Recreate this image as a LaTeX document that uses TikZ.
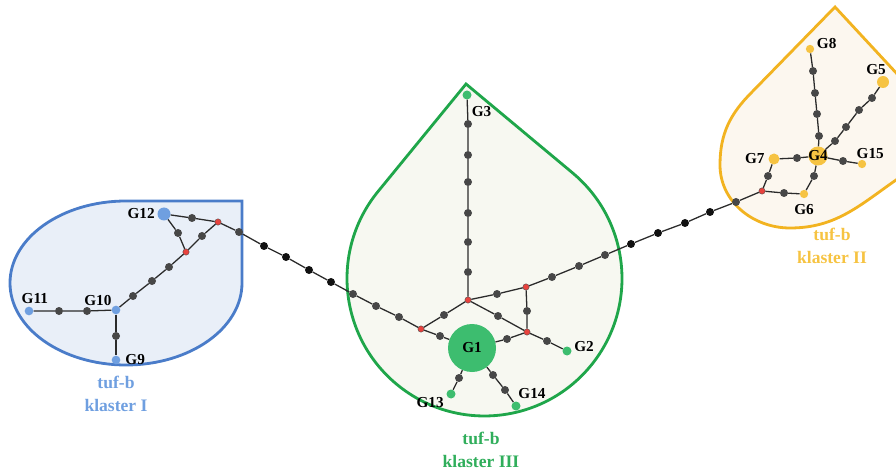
\documentclass[tikz,border=0pt]{standalone}
\usepackage{fontspec}
\setmainfont{Liberation Serif}
\usetikzlibrary{positioning}
\definecolor{hapInk}{HTML}{2B2B2B}
\definecolor{hapDot}{HTML}{474747}
\definecolor{hapBlack}{HTML}{111111}
\definecolor{hapRed}{HTML}{E8433E}
\definecolor{hapBlue}{HTML}{4A7CC9}
\definecolor{hapBlueFill}{HTML}{E9EFF8}
\definecolor{hapBlueDot}{HTML}{6F9FE0}
\definecolor{hapGreen}{HTML}{1FA64A}
\definecolor{hapGreenFill}{HTML}{F7F8F1}
\definecolor{hapGreenDot}{HTML}{3DBD6F}
\definecolor{hapGreenText}{HTML}{30AE5B}
\definecolor{hapGold}{HTML}{F2B320}
\definecolor{hapGoldFill}{HTML}{FCF7EF}
\definecolor{hapGoldDot}{HTML}{F6C342}
\tikzset{
  every node/.style={font=\bfseries\fontsize{13}{15}\selectfont, text=black},
  mutation/.style={circle, fill=hapDot, inner sep=0pt, minimum size=0.24cm},
  outer/.style={mutation, fill=hapBlack},
  median/.style={
    circle,
    fill=hapRed,
    draw=hapDot,
    line width=0.3pt,
    inner sep=0pt,
    minimum size=0.19cm
  },
  haplo/.style={circle, inner sep=0pt, minimum size=0.26cm},
  glabel/.style={inner sep=1pt},
  cluster/.style={line width=2.4pt},
  clabel/.style={align=center, font=\bfseries\fontsize{15}{19}\selectfont},
  link/.style={draw=hapInk, line width=1.1pt}
}

\begin{document}
\begin{tikzpicture}[x=0.03cm, y=0.03cm]
  \useasboundingbox (0,0) rectangle (896,470);
  \clip (0,0) rectangle (896,470);

  \draw[cluster, draw=hapBlue, fill=hapBlueFill] (242,187) -- (242,269) -- (126,269)
    arc[start angle=90, end angle=360, x radius=116, y radius=82] -- cycle;
  \draw[cluster, draw=hapGreen, fill=hapGreenFill] (466,386) -- (378.1,278.6)
    arc[start angle=140.7, end angle=410.1, radius=137.5] -- cycle;
  \draw[cluster, draw=hapGold, fill=hapGoldFill] (835,463) -- (752,378)
    to[out=225, in=90] (720,305) to[out=270, in=180] (790,242)
    to[out=0, in=215] (896,290) to[out=35, in=313] (912,380) -- cycle;

  \node[haplo, fill=hapBlueDot, minimum size=0.39cm] (G12) at (164,256) {};
  \node[mutation] (m1) at (192,252) {};
  \node[median] (mv1) at (218,248) {};
  \node[mutation] (m2) at (178,237) {};
  \node[median] (mv2) at (186,218) {};
  \node[mutation] (m3) at (202,234) {};
  \node[mutation] (m4) at (239,238) {};
  \node[mutation] (m5) at (169,203) {};
  \node[mutation] (m6) at (152,189) {};
  \node[mutation] (m7) at (133,174) {};
  \node[haplo, fill=hapBlueDot] (G10) at (116,160) {};
  \node[mutation] (m8) at (87,159) {};
  \node[mutation] (m9) at (59,159) {};
  \node[haplo, fill=hapBlueDot] (G11) at (29,159) {};
  \node[mutation] (m10) at (116,134) {};
  \node[haplo, fill=hapBlueDot] (G9) at (116,110) {};

  \node[outer] (o1) at (264,224) {};
  \node[outer] (o2) at (286,213) {};
  \node[outer] (o3) at (309,200) {};
  \node[outer] (o4) at (331,188) {};
  \node[mutation] (m11) at (353,176) {};
  \node[mutation] (m12) at (376,164) {};
  \node[mutation] (m13) at (399,153) {};
  \node[median] (mv3) at (421,141) {};

  \node[mutation] (m14) at (440,134) {};
  \node[haplo, fill=hapGreenDot, minimum size=1.44cm] (G1) at (472,122) {};
  \node[mutation] (m15) at (444,155) {};
  \node[median] (mv4) at (468,170) {};
  \node[mutation] (m16) at (468,198) {};
  \node[mutation] (m17) at (468,228) {};
  \node[mutation] (m18) at (468,257) {};
  \node[mutation] (m19) at (468,288) {};
  \node[mutation] (m20) at (468,315) {};
  \node[mutation] (m21) at (468,346) {};
  \node[haplo, fill=hapGreenDot, minimum size=0.27cm] (G3) at (467,375) {};
  \node[mutation] (m22) at (497,176) {};
  \node[median] (mv5) at (526,183) {};
  \node[mutation] (m23) at (498,154) {};
  \node[median] (mv6) at (527,138) {};
  \node[mutation] (m24) at (527,159) {};
  \node[mutation] (m25) at (507,131) {};
  \node[mutation] (m26) at (547,129) {};
  \node[haplo, fill=hapGreenDot, minimum size=0.27cm] (G2) at (567,119) {};
  \node[mutation] (m27) at (459,92) {};
  \node[haplo, fill=hapGreenDot, minimum size=0.27cm] (G13) at (451,76) {};
  \node[mutation] (m28) at (493,95) {};
  \node[mutation] (m29) at (505,80) {};
  \node[haplo, fill=hapGreenDot, minimum size=0.27cm] (G14) at (516,64) {};

  \node[mutation] (m30) at (552,193) {};
  \node[mutation] (m31) at (579,204) {};
  \node[mutation] (m32) at (605,215) {};
  \node[outer] (o5) at (631,226) {};
  \node[outer] (o6) at (658,237) {};
  \node[outer] (o7) at (685,247) {};
  \node[outer] (o8) at (710,258) {};
  \node[mutation] (m33) at (736,268) {};
  \node[median] (mv7) at (762,279) {};

  \node[mutation] (m34) at (768,294) {};
  \node[haplo, fill=hapGoldDot, minimum size=0.33cm] (G7) at (774,311) {};
  \node[mutation] (m35) at (784,277) {};
  \node[haplo, fill=hapGoldDot, minimum size=0.25cm] (G6) at (804,276) {};
  \node[mutation] (m36) at (814,294) {};
  \node[haplo, fill=hapGoldDot, minimum size=0.57cm] (G4) at (818,314) {};
  \node[mutation] (m37) at (797,312) {};
  \node[mutation] (m38) at (843,309) {};
  \node[haplo, fill=hapGoldDot, minimum size=0.25cm] (G15) at (862,306) {};
  \node[mutation] (m39) at (819,334) {};
  \node[mutation] (m40) at (817,356) {};
  \node[mutation] (m41) at (815,377) {};
  \node[mutation] (m42) at (813,399) {};
  \node[haplo, fill=hapGoldDot, minimum size=0.25cm] (G8) at (810,421) {};
  \node[mutation] (m43) at (835,329) {};
  \node[mutation] (m44) at (846,343) {};
  \node[mutation] (m45) at (859,360) {};
  \node[mutation] (m46) at (872,372) {};
  \node[haplo, fill=hapGoldDot, minimum size=0.36cm] (G5) at (883,388) {};

  \draw[link] (G12) -- (m1) -- (mv1) -- (m3) -- (mv2) -- (m2) -- (G12);
  \draw[link] (mv1) -- (m4) -- (o1) -- (o2) -- (o3) -- (o4) -- (m11) -- (m12)
    -- (m13) -- (mv3) -- (m14) -- (G1);
  \draw[link] (mv2) -- (m5) -- (m6) -- (m7) -- (G10) -- (m8) -- (m9) -- (G11);
  \draw[link] (G10) -- (m10) -- (G9);
  \draw[link] (mv3) -- (m15) -- (mv4) -- (m16) -- (m17) -- (m18) -- (m19) -- (m20)
    -- (m21) -- (G3);
  \draw[link] (mv4) -- (m22) -- (mv5) -- (m24) -- (mv6) -- (m23) -- (mv4);
  \draw[link] (mv6) -- (m25) -- (G1);
  \draw[link] (mv6) -- (m26) -- (G2);
  \draw[link] (G1) -- (m27) -- (G13);
  \draw[link] (G1) -- (m28) -- (m29) -- (G14);
  \draw[link] (mv5) -- (m30) -- (m31) -- (m32) -- (o5) -- (o6) -- (o7) -- (o8)
    -- (m33) -- (mv7) -- (m34) -- (G7) -- (m37) -- (G4);
  \draw[link] (mv7) -- (m35) -- (G6) -- (m36) -- (G4);
  \draw[link] (G4) -- (m38) -- (G15);
  \draw[link] (G4) -- (m39) -- (m40) -- (m41) -- (m42) -- (G8);
  \draw[link] (G4) -- (m43) -- (m44) -- (m45) -- (m46) -- (G5);

  \node[glabel, left=1pt of G12] (tG12) {G12};
  \node[glabel, above=1pt of G11, xshift=5pt] (tG11) {G11};
  \node[glabel, above left=0pt of G10] (tG10) {G10};
  \node[glabel, right=3pt of G9] (tG9) {G9};
  \node[glabel, below right=6pt and 0pt of G3] (tG3) {G3};
  \node[glabel, right=1pt of G2, yshift=4pt] (tG2) {G2};
  \node[glabel, left=1pt of G13, yshift=-7pt] (tG13) {G13};
  \node[glabel, above right=2pt and -2pt of G14] (tG14) {G14};
  \node[glabel, right=1pt of G8, yshift=5pt] (tG8) {G8};
  \node[glabel, above=0pt of G5, xshift=-6pt] (tG5) {G5};
  \node[glabel, left=2pt of G7] (tG7) {G7};
  \node[glabel, above=0pt of G15, xshift=7pt] (tG15) {G15};
  \node[glabel, below=4pt of G6] (tG6) {G6};
  \node[glabel] (tG1) at (G1) {G1};
  \node[glabel] (tG4) at (G4) {G4};

  \node[clabel, text=hapBlueDot] (kI) at (116,76) {tuf-b\\klaster I};
  \node[clabel, text=hapGoldDot] (kII) at (832,224) {tuf-b\\klaster II};
  \node[clabel, text=hapGreenText] (kIII) at (481,20) {tuf-b\\klaster III};
\end{tikzpicture}
\end{document}
